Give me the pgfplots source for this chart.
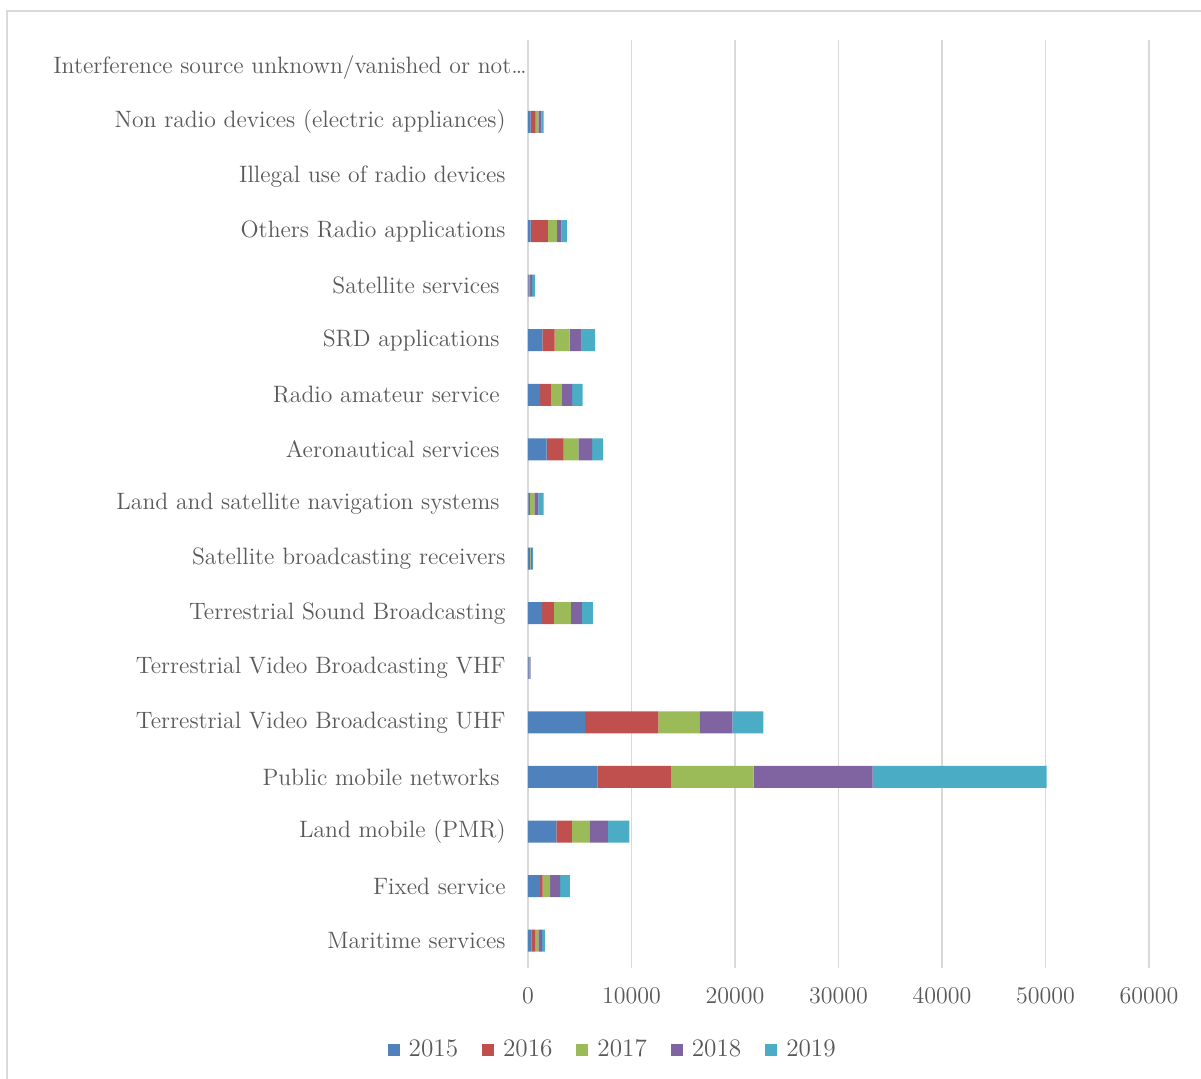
\documentclass[border=0pt]{standalone}
\usepackage{pgfplots}
\usepackage{pgfplotstable}
\pgfplotsset{compat=1.18}
\definecolor{c15}{HTML}{4F81BD}
\definecolor{c16}{HTML}{C0504D}
\definecolor{c17}{HTML}{9BBB59}
\definecolor{c18}{HTML}{8064A2}
\definecolor{c19}{HTML}{4BACC6}
\definecolor{txt}{HTML}{595959}
\definecolor{grd}{HTML}{D9D9D9}
\pgfplotstableread{
idx y15 y16 y17 y18 y19
0 320 360 320 360 290
1 1160 260 710 970 940
2 2740 1500 1700 1770 2080
3 6700 7100 8000 11500 16800
4 5500 7100 3950 3200 3000
5 50 50 80 50 30
6 1360 1130 1650 1070 1070
7 100 100 50 150 100
8 50 130 430 390 500
9 1800 1650 1420 1320 1070
10 1160 1040 1070 1000 1000
11 1390 1190 1450 1160 1290
12 50 50 100 200 300
13 260 1650 870 450 520
14 0 0 0 0 0
15 260 480 260 290 220
16 0 0 0 0 0
}\datatable
\begin{document}
\begin{tikzpicture}[x=0.5pt,y=0.5pt]
\useasboundingbox (0,0) rectangle (1201,1079);
\draw[grd, line width=1pt] (7,1068) rectangle (1215,-15);
\begin{axis}[
  at={(264pt,55.5pt)}, anchor=south west,
  scale only axis, width=310.5pt, height=464pt,
  xbar stacked, bar width=11pt,
  xmin=0, xmax=60000, ymin=-0.5, ymax=16.5,
  xtick={0,10000,20000,30000,40000,50000,60000},
  scaled x ticks=false,
  xticklabel={\pgfmathprintnumber[fixed,1000 sep={}]{\tick}},
  ytick={0,...,16},
  yticklabels={
    {Maritime services},
    {Fixed service},
    {Land mobile (PMR)},
    {Public mobile networks\kern3pt},
    {Terrestrial Video Broadcasting UHF},
    {Terrestrial Video Broadcasting VHF},
    {Terrestrial Sound Broadcasting},
    {Satellite broadcasting receivers},
    {Land and satellite navigation systems\kern3pt},
    {Aeronautical services\kern3pt},
    {Radio amateur service\kern3pt},
    {SRD applications\kern3pt},
    {Satellite services\kern3pt},
    {Others Radio applications},
    {Illegal use of radio devices},
    {Non radio devices (electric appliances)},
    {Interference source unknown/vanished or not\ldots\kern-10.5pt}},
  major tick length=0pt,
  axis line style={draw=none},
  xmajorgrids, major grid style={grd, line width=0.8pt},
  yticklabel style={anchor=east, inner sep=0pt, xshift=-11pt,
    font=\fontsize{11.85}{13}\selectfont, text=txt},
  xticklabel style={anchor=north, inner sep=0pt, yshift=-10pt,
    font=\fontsize{13}{14}\selectfont, text=txt},
  legend columns=5,
  legend style={draw=none, at={(0.138,-0.088)}, anchor=center,
    font=\fontsize{12.6}{14}\selectfont, text=txt,
    /tikz/every odd column/.append style={column sep=2.5pt},
    /tikz/every even column/.append style={column sep=10pt},
    inner sep=0pt},
  legend image code/.code={\fill[#1] (0pt,-3pt) rectangle (6pt,3pt);},
]
\addplot[fill=c15, draw=none] table[x=y15, y=idx] {\datatable};
\addplot[fill=c16, draw=none] table[x=y16, y=idx] {\datatable};
\addplot[fill=c17, draw=none] table[x=y17, y=idx] {\datatable};
\addplot[fill=c18, draw=none] table[x=y18, y=idx] {\datatable};
\addplot[fill=c19, draw=none] table[x=y19, y=idx] {\datatable};
\legend{2015,2016,2017,2018,2019}
\end{axis}
\end{tikzpicture}
\end{document}
